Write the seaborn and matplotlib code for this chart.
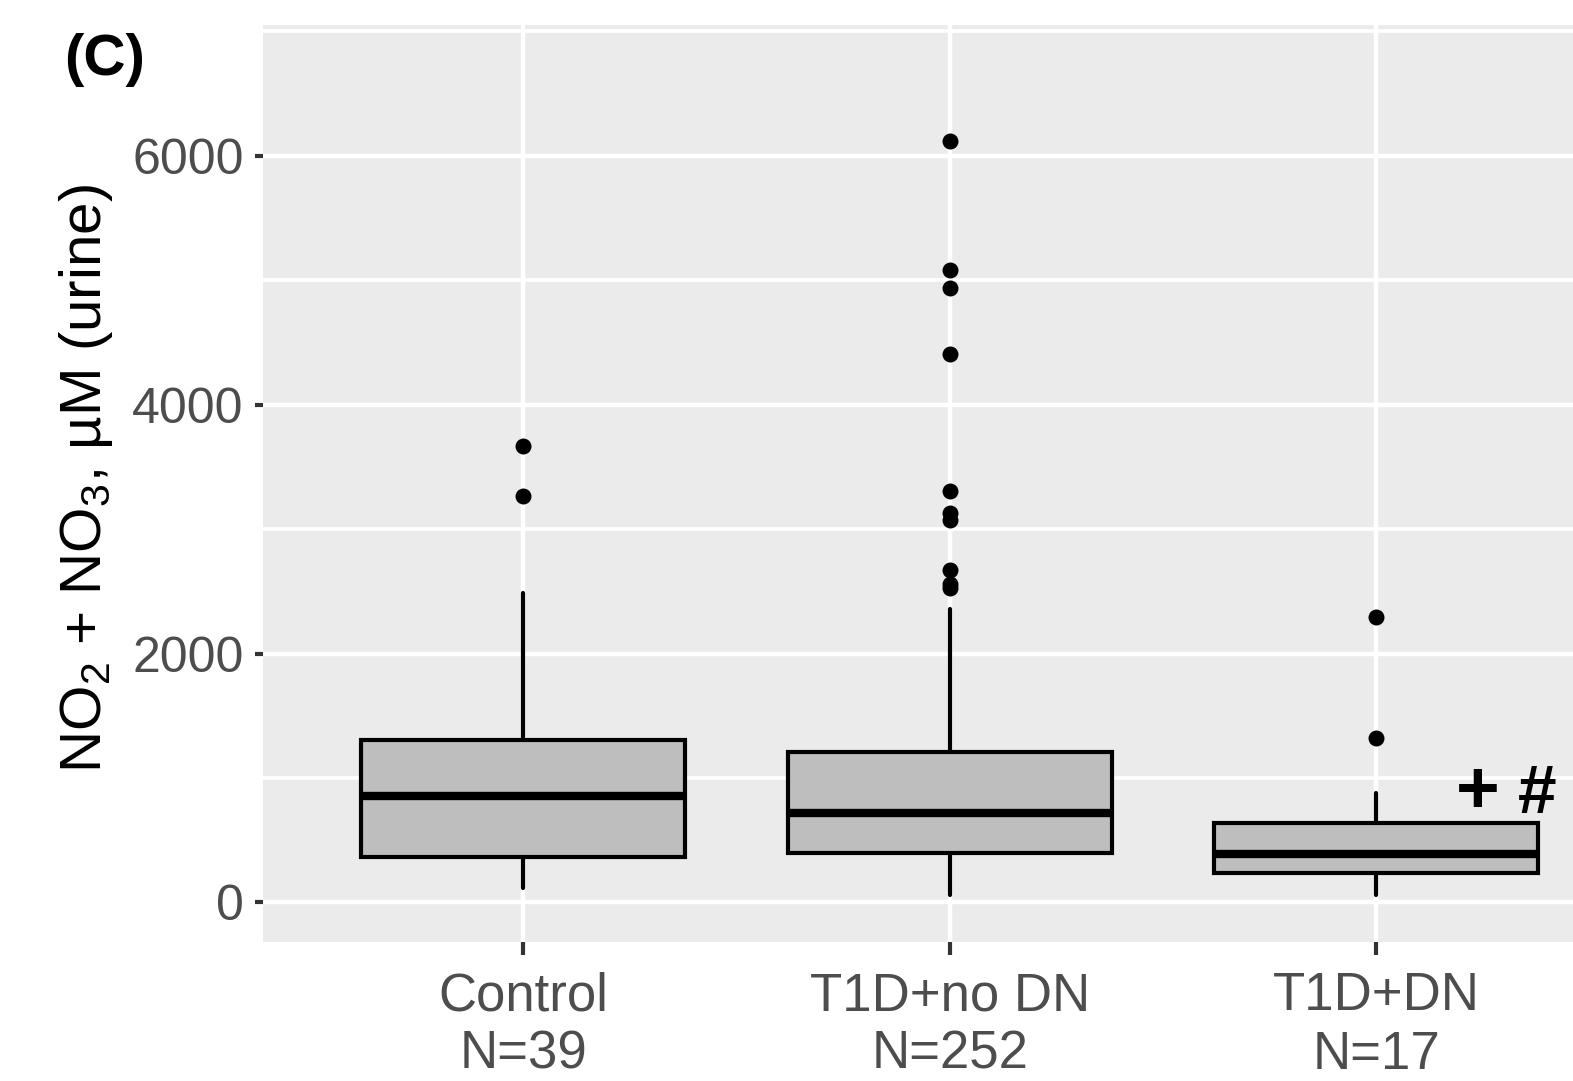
import numpy as np
import pandas as pd
import matplotlib
matplotlib.use("Agg")
import matplotlib.pyplot as plt
from matplotlib.ticker import FixedLocator
import seaborn as sns

# ---------------- data ----------------
groups = ["Control", "T1D+no DN", "T1D+DN"]
group_n = [39, 252, 17]
whisker_low = [114, 60, 60]
q1 = [368, 395, 235]
median = [856, 722, 387]
q3 = [1306, 1207, 637]
whisker_high = [2490, 2357, 878]
outliers_control = [3670, 3268]
outliers_t1d_nodn = [6119, 5084, 4937, 4409, 3302, 3131, 3075, 2667, 2560, 2525]
outliers_t1d_dn = [2293, 1322]
y_major_ticks = [0, 2000, 4000, 6000]
y_minor_ticks = [1000, 3000, 5000, 7000]
tick_labels = [f"{g}\nN={n}" for g, n in zip(groups, group_n)]

# ---------------- style ----------------
sns.set_theme(style="darkgrid", rc={
    "axes.facecolor": "#EBEBEB",
    "grid.color": "white",
    "axes.edgecolor": "#EBEBEB",
})
plt.rcParams["font.family"] = ["Liberation Sans", "DejaVu Sans"]
plt.rcParams["mathtext.fontset"] = "custom"
plt.rcParams["mathtext.rm"] = "Liberation Sans"
plt.rcParams["mathtext.it"] = "Liberation Sans:italic"
plt.rcParams["mathtext.bf"] = "Liberation Sans:bold"

fig = plt.figure(figsize=(15.73, 10.81), dpi=100)
fig.patch.set_facecolor("white")
ax = fig.add_axes([263 / 1573, 1 - 942 / 1081, 1373.5 / 1573, (942 - 25) / 1081])

# outlier points via seaborn
out_df = pd.DataFrame({
    "group": ["Control"] * len(outliers_control)
    + ["T1D+no DN"] * len(outliers_t1d_nodn)
    + ["T1D+DN"] * len(outliers_t1d_dn),
    "value": outliers_control + outliers_t1d_nodn + outliers_t1d_dn,
})
sns.stripplot(data=out_df, x="group", y="value", order=groups, jitter=False,
              color="black", size=11.5, linewidth=0, ax=ax, zorder=4)

# boxes from summary statistics
stats = []
for i, g in enumerate(groups):
    stats.append(dict(label=g, whislo=whisker_low[i], q1=q1[i], med=median[i],
                      q3=q3[i], whishi=whisker_high[i], fliers=[]))
ax.bxp(stats, positions=list(range(len(groups))), widths=0.76,
       patch_artist=True, showfliers=False, showcaps=False,
       boxprops=dict(facecolor="#BEBEBE", edgecolor="black", linewidth=3.0),
       medianprops=dict(color="black", linewidth=6.0, solid_capstyle="butt"),
       whiskerprops=dict(color="black", linewidth=3.0),
       manage_ticks=False, zorder=3)

# annotations
ax.text(2.238, 938, "+", fontsize=54, fontweight="bold", ha="center",
        va="center_baseline", color="black", zorder=5)
ax.text(2.377, 922, "#", fontsize=50, fontweight="bold", ha="center",
        va="center_baseline", color="black", zorder=5)

# axes
ax.set_xlim(-0.611, 2.611)
ax.set_ylim(-318, 7050)
ax.set_xticks(range(len(groups)))
ax.set_xticklabels(tick_labels, fontsize=38, color="#4D4D4D", linespacing=1.22)
ax.yaxis.set_major_locator(FixedLocator(y_major_ticks))
ax.yaxis.set_minor_locator(FixedLocator(y_minor_ticks))
ax.set_yticklabels([str(v) for v in y_major_ticks], fontsize=36, color="#4D4D4D")
ax.grid(which="major", axis="both", color="white", linewidth=3.2)
ax.grid(which="minor", axis="y", color="white", linewidth=2.6)
ax.tick_params(axis="y", which="major", length=6, width=3, color="#333333",
               pad=8, left=True)
ax.tick_params(axis="x", which="major", length=9, width=3, color="#333333",
               pad=12, bottom=True)
ax.tick_params(which="minor", length=0)
ax.set_axisbelow(True)
for s in ax.spines.values():
    s.set_visible(False)

ax.set_xlabel("")
ax.set_ylabel("NO$_2$ + NO$_3$, µM (urine)", fontsize=42, color="black")
ax.yaxis.set_label_coords(-0.108, 0.505)

fig.text(105 / 1573, 1 - 60 / 1081, "(C)", fontsize=42, fontweight="bold",
         ha="center", va="center", color="black")

fig.savefig("out.png", dpi=100, facecolor="white")
